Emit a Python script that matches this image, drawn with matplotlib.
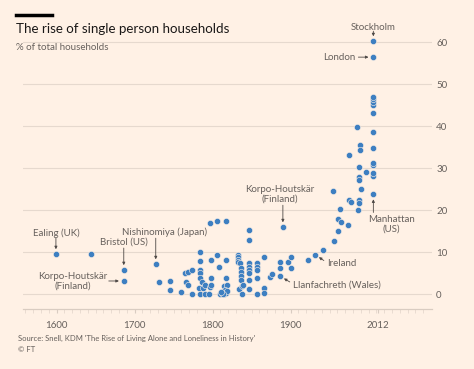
import matplotlib
matplotlib.use("Agg")
import matplotlib.pyplot as plt
from matplotlib.lines import Line2D

plt.rcParams['font.family'] = ['Lato', 'DejaVu Sans']

# year, share of single person households (%)
years = [1599, 1644, 1686, 1686, 1727, 1731, 1745, 1745, 1760, 1764,
         1768, 1773, 1766, 1768, 1773, 1782, 1784, 1784, 1784, 1784,
         1784, 1786, 1788, 1790, 1784, 1790, 1795, 1797, 1797, 1805,
         1817, 1798, 1798, 1798, 1805, 1808, 1817, 1817, 1815, 1818,
         1810, 1812, 1814, 1815, 1816, 1817, 1818, 1813, 1811,
         1832, 1832, 1832, 1832, 1835, 1836, 1836, 1836, 1836,
         1834, 1837, 1839, 1837,
         1846, 1846, 1846, 1846, 1846, 1846, 1847, 1847,
         1857, 1857, 1857, 1857, 1857, 1866, 1866, 1866, 1873, 1876,
         1886, 1886, 1886, 1890, 1897, 1901, 1900,
         1922, 1931, 1941, 1955, 1961, 1961, 1965, 1963, 1974,
         1954, 1975, 1977, 1988, 1987, 1986, 1990,
         1987, 1988, 1987, 1997, 1975, 1989, 1989, 1985,
         2006, 2006, 2006, 2006, 2006, 2006, 2006, 2006, 2006, 2006,
         2006, 2006, 2006, 2006]
share = [9.5, 9.5, 5.7, 3.1, 7.1, 2.9, 3.1, 1.0, 0.5, 4.9,
         5.3, 5.7, 2.9, 2.1, 0.0, 1.4, 9.9, 7.9, 5.7, 4.9,
         3.7, 2.9, 1.5, 2.1, 0.0, 0.0, 0.0, 1.7, 17.0, 17.3,
         17.3, 8.1, 3.7, 2.1, 9.3, 6.5, 8.1, 3.7, 1.8, 2.1,
         0.0, 0.3, 0.0, 0.6, 1.0, 0.2, 0.8, 0.0, 0.4,
         9.3, 8.8, 8.2, 7.7, 7.4, 6.2, 5.2, 4.3, 3.3,
         1.2, 1.8, 2.1, 0.0,
         7.3, 6.5, 5.7, 4.9, 3.3, 1.3, 15.2, 12.9,
         7.3, 6.5, 5.7, 3.7, 0.0, 8.9, 1.4, 0.2, 4.1, 4.8,
         7.7, 6.1, 4.3, 15.9, 7.7, 8.9, 6.1,
         8.2, 9.4, 10.5, 12.7, 15.1, 17.9, 17.2, 20.2, 16.4,
         24.5, 22.5, 22.0, 22.4, 21.6, 20.0, 25.0,
         27.9, 27.1, 30.2, 29.0, 33.1, 35.5, 34.3, 39.7,
         23.7, 28.2, 28.8, 30.7, 31.2, 34.7, 38.5, 43.2, 45.0, 45.8,
         46.5, 47.0, 56.4, 60.2]

xticks = [1600, 1700, 1800, 1900, 2012]
yticks = [0, 10, 20, 30, 40, 50, 60]

# labelled places: (text, year, value, text offset px, arrow start offset px, ha)
labels = [
    ("Stockholm", 2006, 60.2, (0, 14), (0, 10), 'center'),
    ("London", 2006, 56.4, (-18, 0), (-15, 0), 'right'),
    ("Ealing (UK)", 1599, 9.5, (0, 21), (0, 16), 'center'),
    ("Bristol (US)", 1686, 5.7, (0, 28), (0, 22), 'center'),
    ("Nishinomiya (Japan)", 1727, 7.1, (9, 32), (0, 26), 'center'),
    ("Korpo-Houtskär\n(Finland)", 1686, 3.1, (-51, 0), (-15, 0), 'center'),
    ("Korpo-Houtskär\n(Finland)", 1890, 15.9, (-3, 33), (0, 22), 'center'),
    ("Ireland", 1931, 9.4, (12, -9), (9, -6), 'left'),
    ("Llanfachreth (Wales)", 1886, 4.3, (13, -9), (10, -6), 'left'),
    ("Manhattan\n(US)", 2006, 23.7, (-5, -30), (0, -18), 'left'),
]

bg = '#fff1e5'
grey = '#66605c'
blue = '#3d7fc1'

fig = plt.figure(figsize=(4.74, 3.69), dpi=100, facecolor=bg)
ax = fig.add_axes([23/474, 60/369, 409/474, 274/369])
ax.set_facecolor('none')

ax.scatter(years, share, s=20, color=blue, edgecolors=bg, linewidths=0.4, zorder=3)

for text, x, y, toff, aoff, ha in labels:
    ax.annotate('', xy=(x, y), xytext=aoff, textcoords='offset pixels',
                arrowprops=dict(arrowstyle='-|>', color='#4d4845', lw=0.6,
                                mutation_scale=4, shrinkA=0, shrinkB=3.5),
                annotation_clip=False)
    ax.annotate(text, xy=(x, y), xytext=toff, textcoords='offset pixels',
                ha=ha, va='center', fontsize=7, color=grey, linespacing=1.1,
                multialignment='center', annotation_clip=False)

ax.set_xlim(1556.8, 2081.2)
ax.set_ylim(-3.57, 61.67)
ax.set_xticks(xticks)
ax.set_xticklabels([str(t) for t in xticks])
ax.set_xticks(range(1560, 2080, 10), minor=True)
ax.set_yticks(yticks)
ax.yaxis.tick_right()
ax.tick_params(axis='y', length=0, pad=3, labelsize=7, labelcolor=grey)
ax.tick_params(axis='x', which='major', length=3, color='#d9ccc1', pad=6,
               labelsize=7, labelcolor=grey)
ax.tick_params(axis='x', which='minor', length=3, color='#e6d9ce')
ax.grid(axis='y', color='#e6d9ce', lw=0.8)
ax.set_axisbelow(True)
for s in ['top', 'left', 'right']:
    ax.spines[s].set_visible(False)
ax.spines['bottom'].set_color('#d9ccc1')
ax.spines['bottom'].set_linewidth(0.9)

fig.add_artist(Line2D([16/474, 52/474], [1 - 15/369, 1 - 15/369], color='#000000', lw=2.5))
fig.text(16/474, 1 - 29/369, "The rise of single person households", fontsize=9.6,
         color='#1a1817', va='center')
fig.text(16/474, 1 - 47/369, "% of total households", fontsize=7, color=grey, va='center')
fig.text(18/474, 1 - 338/369,
         "Source: Snell, KDM 'The Rise of Living Alone and Loneliness in History'",
         fontsize=5.5, color=grey, va='center')
fig.text(18/474, 1 - 349/369, "© FT", fontsize=5.5, color=grey, va='center')

fig.savefig('out.png', dpi=100, facecolor=bg)
